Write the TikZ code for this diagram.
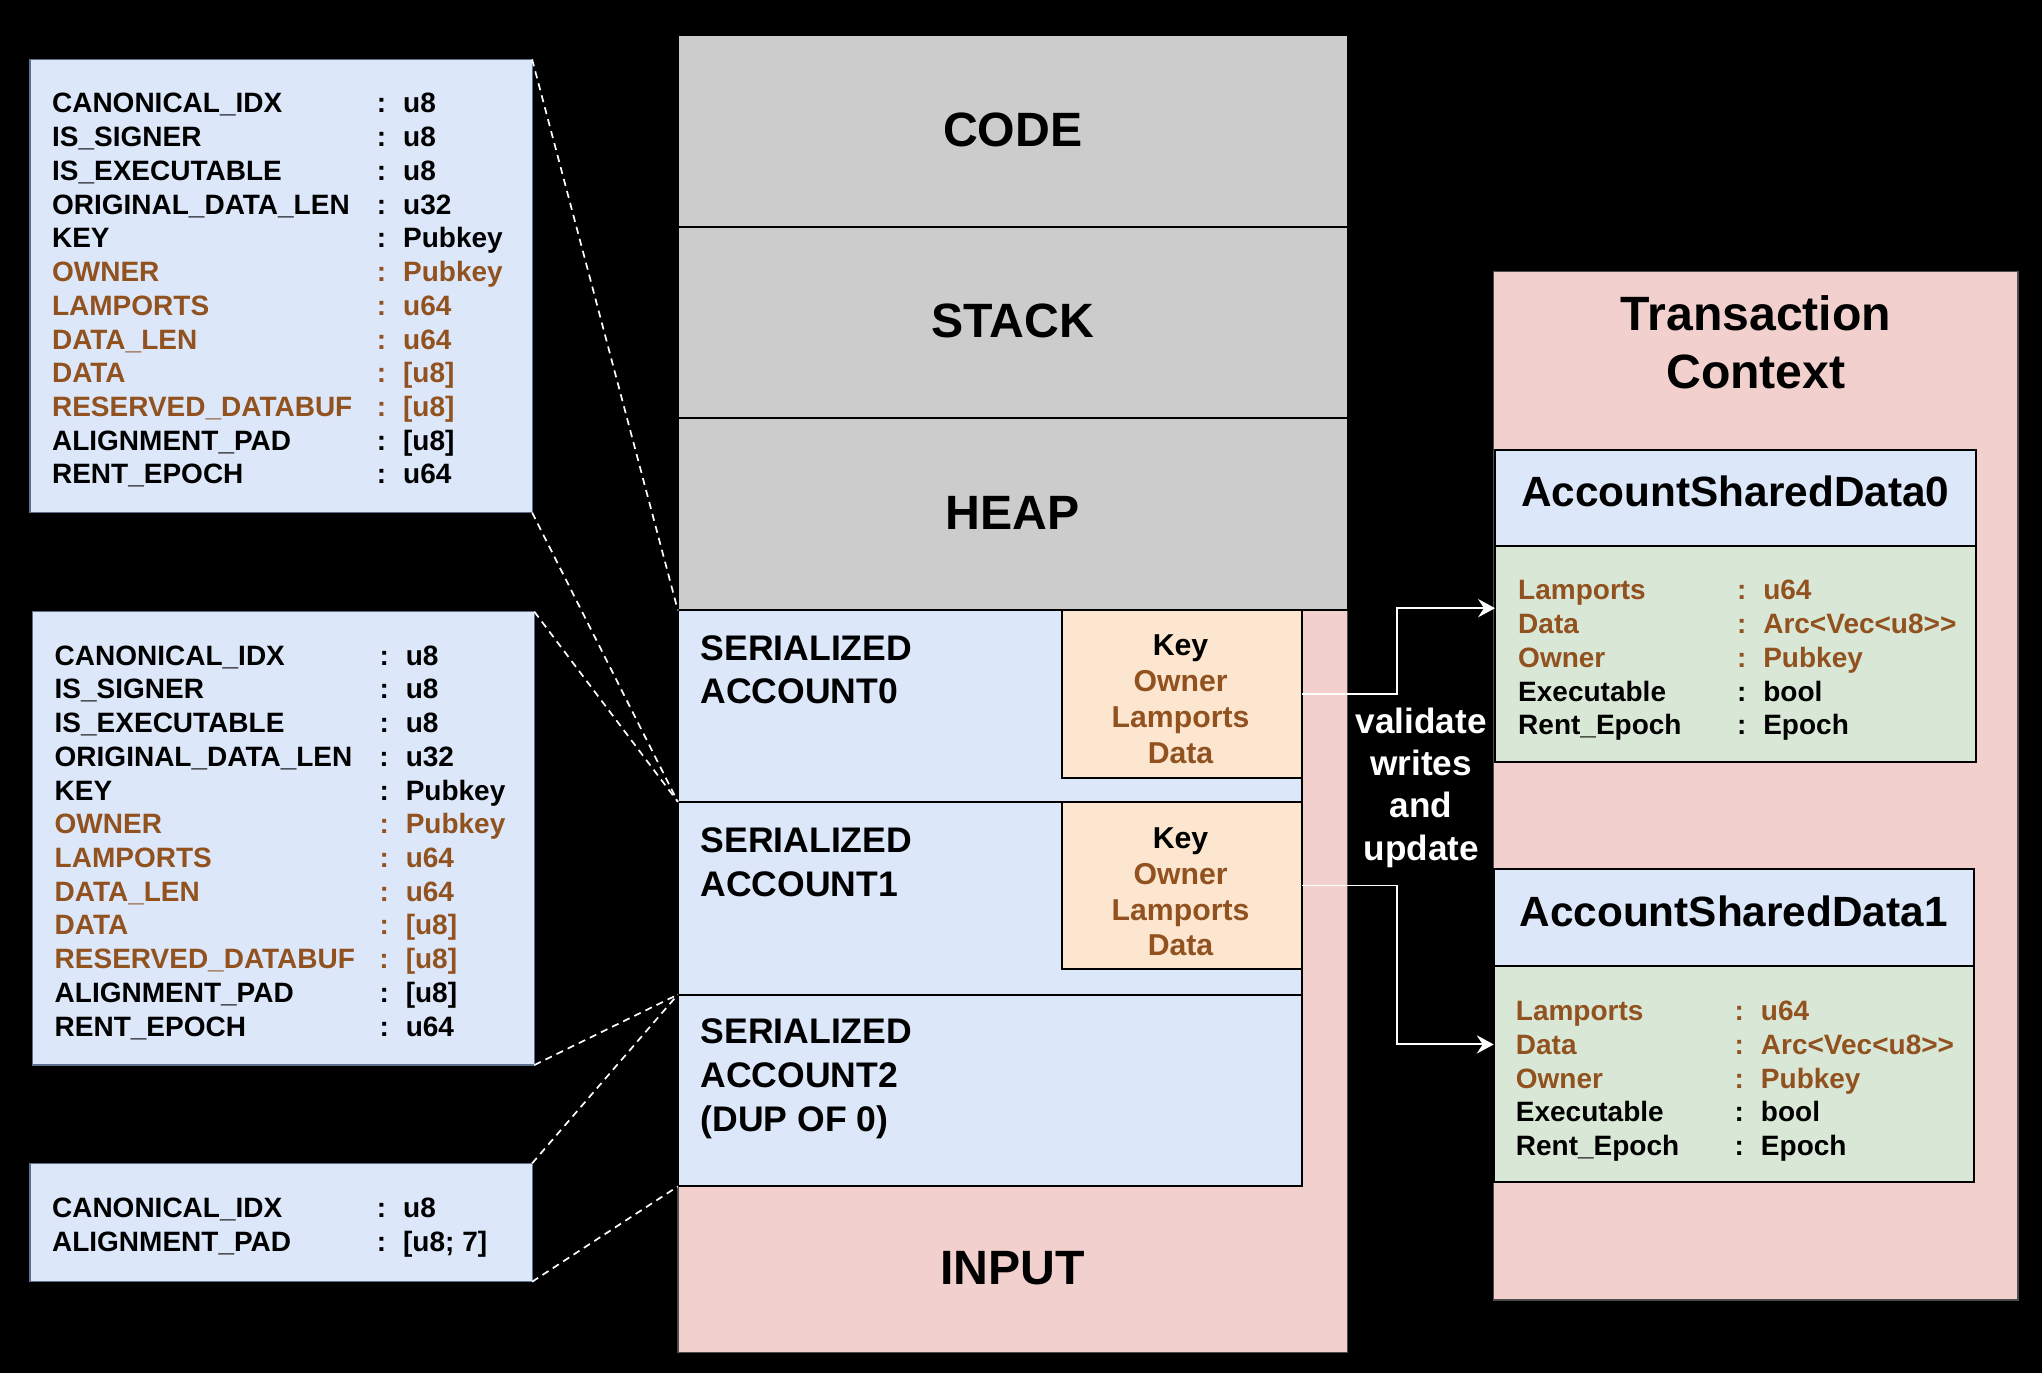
\documentclass[tikz,border=0pt]{standalone}
\usepackage{fontspec}
\setmainfont{Liberation Sans}
\usetikzlibrary{arrows.meta}
\definecolor{lblue}{HTML}{DCE8FA}
\definecolor{lgrey}{HTML}{CCCCCC}
\definecolor{lpink}{HTML}{F2D0CD}
\definecolor{lorange}{HTML}{FCE6CF}
\definecolor{lgreen}{HTML}{D9E7D6}
\definecolor{brn}{HTML}{915220}
\definecolor{sideedge}{HTML}{5C6F8C}
\newcommand{\fsmall}{\fontsize{21.5pt}{25.9pt}\selectfont\bfseries}
\newcommand{\fkey}{\fontsize{23.2pt}{27.5pt}\selectfont\bfseries}
\newcommand{\fser}{\fontsize{27.3pt}{33.6pt}\selectfont\bfseries}
\newcommand{\fbig}{\fontsize{37pt}{44pt}\selectfont\bfseries}
\newcommand{\ftitle}{\fontsize{37pt}{44.8pt}\selectfont\bfseries}
\newcommand{\fasd}{\fontsize{32.5pt}{39pt}\selectfont\bfseries}
\newcommand{\fval}{\fontsize{27pt}{32.5pt}\selectfont\bfseries}
\newcommand{\trow}[4]{\textcolor{#1}{\makebox[#2][l]{#3}\makebox[16pt]{:}\hspace{8.6pt}#4}}
\newcommand{\sidrow}[3]{\trow{#1}{245pt}{#2}{#3}}
\newcommand{\asdrow}[3]{\trow{#1}{163.6pt}{#2}{#3}}
\begin{document}
\begin{tikzpicture}[x=1pt,y=-1pt,
  box/.style={anchor=north west, inner sep=0pt, outer sep=0pt},
  side/.style={box, fill=lblue, draw=sideedge, line width=0.9pt},
  mem/.style={box, draw=black, line width=1.5pt},
  txt/.style={inner sep=0pt, outer sep=0pt},
  link/.style={draw=white, line width=1.3pt, dash pattern=on 5.5pt off 4pt},
  flow/.style={draw=white, line width=1.5pt, -{Stealth[length=13pt, width=14pt, inset=4.5pt]}}]
\useasboundingbox (0,0) rectangle (1568,1054);
\fill[black] (0,0) rectangle (1568,1054);

% side boxes
\node[side, minimum width=385.6pt, minimum height=348pt] (f0) at (23,45.6) {};
\node[side, minimum width=385.3pt, minimum height=348.1pt] (f1) at (25,469.7) {};
\node[side, minimum width=385.6pt, minimum height=90.9pt] (f2) at (23,893.3) {};

\node[txt, anchor=base west, font=\fsmall] (f0t) at (40,86.7) {\begin{tabular}[t]{@{}l@{}}
\sidrow{black}{CANONICAL\_IDX}{u8}\\
\sidrow{black}{IS\_SIGNER}{u8}\\
\sidrow{black}{IS\_EXECUTABLE}{u8}\\
\sidrow{black}{ORIGINAL\_DATA\_LEN}{u32}\\
\sidrow{black}{KEY}{Pubkey}\\
\sidrow{brn}{OWNER}{Pubkey}\\
\sidrow{brn}{LAMPORTS}{u64}\\
\sidrow{brn}{DATA\_LEN}{u64}\\
\sidrow{brn}{DATA}{[u8]}\\
\sidrow{brn}{RESERVED\_DATABUF}{[u8]}\\
\sidrow{black}{ALIGNMENT\_PAD}{[u8]}\\
\sidrow{black}{RENT\_EPOCH}{u64}
\end{tabular}};

\node[txt, anchor=base west, font=\fsmall] (f1t) at (42,510.7) {\begin{tabular}[t]{@{}l@{}}
\sidrow{black}{CANONICAL\_IDX}{u8}\\
\sidrow{black}{IS\_SIGNER}{u8}\\
\sidrow{black}{IS\_EXECUTABLE}{u8}\\
\sidrow{black}{ORIGINAL\_DATA\_LEN}{u32}\\
\sidrow{black}{KEY}{Pubkey}\\
\sidrow{brn}{OWNER}{Pubkey}\\
\sidrow{brn}{LAMPORTS}{u64}\\
\sidrow{brn}{DATA\_LEN}{u64}\\
\sidrow{brn}{DATA}{[u8]}\\
\sidrow{brn}{RESERVED\_DATABUF}{[u8]}\\
\sidrow{black}{ALIGNMENT\_PAD}{[u8]}\\
\sidrow{black}{RENT\_EPOCH}{u64}
\end{tabular}};

\node[txt, anchor=base west, font=\fsmall] (f2t) at (40,935.2) {\begin{tabular}[t]{@{}l@{}}
\sidrow{black}{CANONICAL\_IDX}{u8}\\
\sidrow{black}{ALIGNMENT\_PAD}{[u8; 7]}
\end{tabular}};

% memory column
\node[mem, fill=lpink, draw=black!70, line width=1pt, minimum width=514.2pt, minimum height=570pt] (input) at (520.5,468.7) {};
\node[mem, fill=lgrey, minimum width=514.2pt, minimum height=147pt] (code) at (520.5,27.1) {};
\node[mem, fill=lgrey, minimum width=514.2pt, minimum height=147pt] (stack) at (520.5,174.1) {};
\node[mem, fill=lgrey, minimum width=514.2pt, minimum height=147.6pt] (heap) at (520.5,321.1) {};
\node[txt, font=\fbig] (codet) at (777.6,99.5) {CODE};
\node[txt, font=\fbig] (stackt) at (777.6,246.8) {STACK};
\node[txt, font=\fbig] (heapt) at (777.6,394.2) {HEAP};
\node[txt, font=\fbig] (inputt) at (777.6,974) {INPUT};

\node[mem, fill=lblue, minimum width=478.9pt, minimum height=147pt] (acc0) at (520.5,468.7) {};
\node[mem, fill=lblue, minimum width=478.9pt, minimum height=148pt] (acc1) at (520.5,615.7) {};
\node[mem, fill=lblue, minimum width=478.9pt, minimum height=147.3pt] (acc2) at (520.5,763.7) {};
\node[mem, fill=lorange, anchor=north east, minimum width=184pt, minimum height=128.5pt] (key0) at (acc0.north east) {};
\node[mem, fill=lorange, anchor=north east, minimum width=184pt, minimum height=128.5pt] (key1) at (acc1.north east) {};

\node[txt, anchor=base west, font=\fser] (acc0t) at (538,506.8) {\begin{tabular}[t]{@{}l@{}}SERIALIZED\\ACCOUNT0\end{tabular}};
\node[txt, anchor=base west, font=\fser] (acc1t) at (538,654.5) {\begin{tabular}[t]{@{}l@{}}SERIALIZED\\ACCOUNT1\end{tabular}};
\node[txt, anchor=base west, font=\fser] (acc2t) at (538,801.4) {\begin{tabular}[t]{@{}l@{}}SERIALIZED\\ACCOUNT2\\(DUP OF 0)\end{tabular}};

\node[txt, anchor=base, font=\fkey] (key0t) at (906.5,503.7) {\begin{tabular}[t]{@{}c@{}}Key\\\textcolor{brn}{Owner}\\\textcolor{brn}{Lamports}\\\textcolor{brn}{Data}\end{tabular}};
\node[txt, anchor=base, font=\fkey] (key1t) at (906.5,651.5) {\begin{tabular}[t]{@{}c@{}}Key\\\textcolor{brn}{Owner}\\\textcolor{brn}{Lamports}\\\textcolor{brn}{Data}\end{tabular}};

% transaction context
\node[mem, fill=lpink, draw=black!70, line width=1pt, minimum width=402.6pt, minimum height=789.6pt] (tc) at (1147,208.6) {};
\node[txt, anchor=base, font=\ftitle] (tct) at (1348.3,253.4) {\begin{tabular}[t]{@{}c@{}}Transaction\\Context\end{tabular}};

\node[mem, fill=lblue, minimum width=369pt, minimum height=73.5pt] (asd0h) at (1148,345.5) {};
\node[mem, fill=lgreen, minimum width=369pt, minimum height=166pt] (asd0b) at (asd0h.south west) {};
\node[mem, fill=lblue, minimum width=368.4pt, minimum height=74pt] (asd1h) at (1147,667.5) {};
\node[mem, fill=lgreen, minimum width=368.4pt, minimum height=166pt] (asd1b) at (asd1h.south west) {};

\node[txt, anchor=base, font=\fasd] (asd0t) at (1332.5,389) {AccountSharedData0};
\node[txt, anchor=base, font=\fasd] (asd1t) at (1331.2,711.3) {AccountSharedData1};

\node[txt, anchor=base west, font=\fsmall] (asd0f) at (1165.8,460.7) {\begin{tabular}[t]{@{}l@{}}
\asdrow{brn}{Lamports}{u64}\\
\asdrow{brn}{Data}{Arc<Vec<u8>{}>}\\
\asdrow{brn}{Owner}{Pubkey}\\
\asdrow{black}{Executable}{bool}\\
\asdrow{black}{Rent\_Epoch}{Epoch}
\end{tabular}};
\node[txt, anchor=base west, font=\fsmall] (asd1f) at (1164,783.7) {\begin{tabular}[t]{@{}l@{}}
\asdrow{brn}{Lamports}{u64}\\
\asdrow{brn}{Data}{Arc<Vec<u8>{}>}\\
\asdrow{brn}{Owner}{Pubkey}\\
\asdrow{black}{Executable}{bool}\\
\asdrow{black}{Rent\_Epoch}{Epoch}
\end{tabular}};

% validate label
\node[txt, anchor=base, font=\fval, text=white] (valt) at (1091.3,563.1) {\begin{tabular}[t]{@{}c@{}}validate\\writes\\and\\update\end{tabular}};

% connectors
\coordinate (j0) at (1072.5,467);
\coordinate (j1) at (1072.5,802);
\draw[flow] (key0.east) -| (j0) -- (j0 -| asd0b.west);
\draw[flow] (key1.east) -| (j1) -- (j1 -| asd1b.west);

\draw[link] (f0.north east) -- (acc0.north west);
\draw[link] (f0.south east) -- (acc1.north west);
\draw[link] (f1.north east) -- (acc1.north west);
\draw[link] (f1.south east) -- (acc2.north west);
\draw[link] (f2.north east) -- (acc2.north west);
\draw[link] (f2.south east) -- (acc2.south west);
\end{tikzpicture}
\end{document}
